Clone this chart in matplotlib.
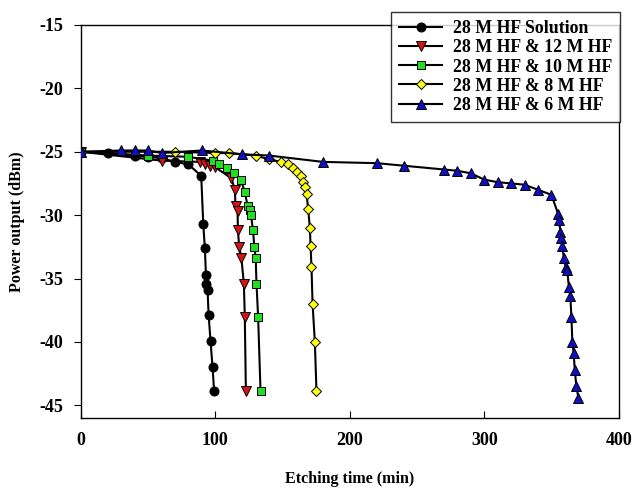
import matplotlib.pyplot as plt
from matplotlib.ticker import MultipleLocator

# Etching time (min) and power output (dBm)
t_sol = [0, 20, 40, 50, 60, 70, 80, 89.5, 91, 92.2, 93, 93.4, 94.2, 95, 96.4, 97.9, 99.1]
p_sol = [-25.0, -25.1, -25.3, -25.4, -25.5, -25.8, -26.0, -26.9, -30.7, -32.6, -34.7,
         -35.4, -35.9, -37.9, -39.9, -42.0, -43.9]

t_12m = [0, 60, 88.5, 92, 96, 99.6, 112, 114.5, 115, 116.5, 116.8, 117.7, 119.4,
         121.2, 121.9, 122.7]
p_12m = [-25.0, -25.7, -25.8, -26.0, -26.1, -26.2, -27.1, -28.0, -29.3, -29.7, -31.2,
         -32.5, -33.4, -35.4, -38.0, -43.9]

t_10m = [0, 50, 80, 98, 103, 109, 114, 119, 122, 124, 125.5, 126.5, 128, 129, 130,
         130.6, 131.8, 133.6]
p_10m = [-25.0, -25.3, -25.4, -25.7, -26.0, -26.3, -26.7, -27.2, -28.2, -29.3, -29.6,
         -30.0, -31.2, -32.5, -33.4, -35.4, -38.0, -43.9]

t_8m = [0, 70, 100, 110, 130, 140, 149, 154, 157.5, 160.5, 164, 165.3, 166.5, 167.8,
        169, 170.3, 170.8, 171.5, 172.3, 174, 175.2]
p_8m = [-25.0, -25.0, -25.1, -25.1, -25.3, -25.6, -25.8, -26.0, -26.3, -26.6, -26.9,
        -27.4, -27.8, -28.3, -29.5, -31.0, -32.4, -34.1, -37.0, -40.0, -43.9]

t_6m = [0, 30, 40, 50, 60, 90, 120, 140, 180, 220, 240, 270, 280, 290, 300, 310, 320,
        330, 340, 350, 354.9, 355.6, 356.6, 357.4, 358.1, 359.1, 360.6, 361.6, 363,
        364, 364.8, 365.5, 366.5, 367.3, 368.5, 370]
p_6m = [-25.0, -24.9, -24.9, -24.9, -25.1, -24.9, -25.2, -25.3, -25.8, -25.9, -26.1,
        -26.4, -26.5, -26.7, -27.2, -27.4, -27.5, -27.6, -28.0, -28.4, -29.9, -30.4,
        -31.3, -31.8, -32.4, -33.4, -34.1, -34.3, -35.7, -36.4, -38.0, -40.0, -40.9,
        -42.2, -43.5, -44.4]

LABELS = ['28 M HF Solution', '28 M HF & 12 M HF', '28 M HF & 10 M HF',
          '28 M HF & 8 M HF', '28 M HF & 6 M HF']

plt.rcParams['font.family'] = ['Liberation Serif', 'DejaVu Serif']
plt.rcParams['font.weight'] = 'bold'
plt.rcParams['axes.unicode_minus'] = False


def main():
    fig = plt.figure(figsize=(6.32, 4.90), dpi=100)
    ax = fig.add_axes([0.128, 0.147, 0.851, 0.802])

    series = [
        (t_sol, p_sol, 'o', 'black', 6.5),
        (t_12m, p_12m, 'v', '#d41515', 7),
        (t_10m, p_10m, 's', '#22dd22', 5.5),
        (t_8m, p_8m, 'D', '#ffff10', 5.5),
        (t_6m, p_6m, '^', '#1010c0', 7),
    ]
    handles = []
    for (t, p, m, c, ms), lab in zip(series, LABELS):
        h, = ax.plot(t, p, color='black', lw=1.5, marker=m, markersize=ms,
                     markerfacecolor=c, markeredgecolor='black', markeredgewidth=0.7,
                     label=lab, zorder=3)
        handles.append(h)

    ax.set_xlim(0, 400)
    ax.set_ylim(-46, -15)
    ax.xaxis.set_major_locator(MultipleLocator(100))
    ax.set_yticks([-15, -20, -25, -30, -35, -40, -45])
    ax.tick_params(axis='x', direction='in', length=5, labelsize=13, pad=10)
    ax.tick_params(axis='y', direction='out', length=5, labelsize=13, pad=8)
    for lab in ax.get_xticklabels() + ax.get_yticklabels():
        lab.set_fontweight('bold')
    for s in ax.spines.values():
        s.set_linewidth(1.0)

    ax.set_xlabel('Etching time (min)', fontsize=11.5, fontweight='bold', labelpad=16)
    ax.set_ylabel('Power output (dBm)', fontsize=11.5, fontweight='bold', labelpad=10)

    leg = fig.legend(handles=handles, loc='upper right',
                     bbox_to_anchor=(0.981, 0.975), borderaxespad=0,
                     fontsize=12.8, frameon=True,
                     fancybox=False, edgecolor='black', handlelength=2.4,
                     borderpad=0.45, labelspacing=0.12, handletextpad=0.6)
    leg.get_frame().set_linewidth(1.0)
    for txt in leg.get_texts():
        txt.set_fontweight('bold')

    fig.savefig('out.png', dpi=100)


if __name__ == '__main__':
    main()
